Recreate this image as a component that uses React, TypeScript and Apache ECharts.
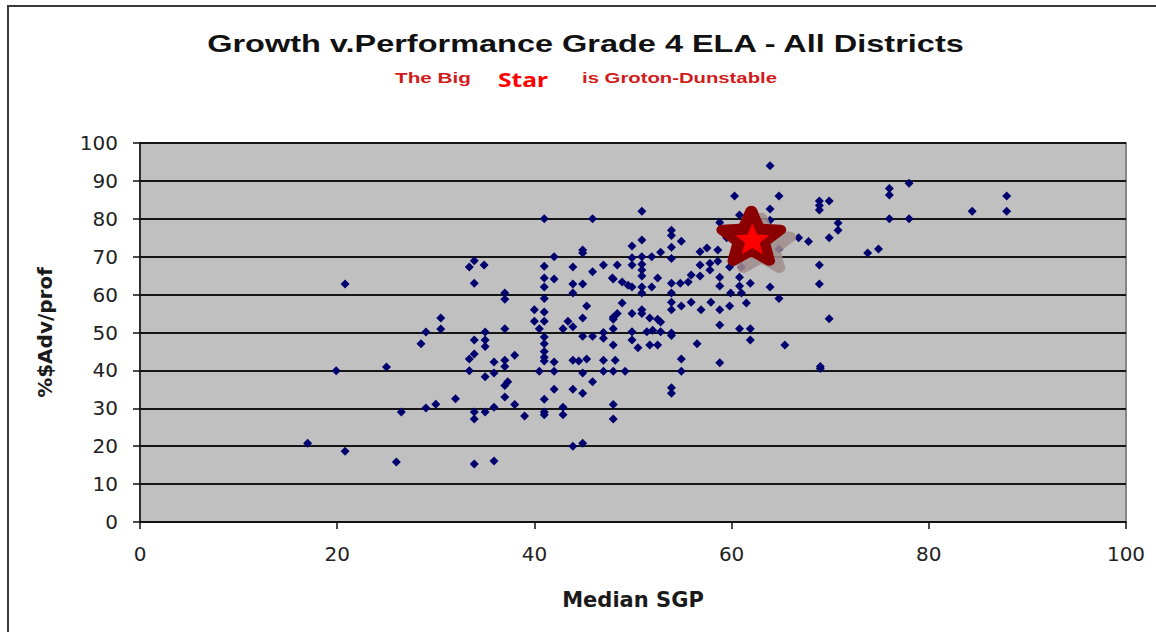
import React, { useEffect, useRef } from "react";
import * as echarts from "echarts";

// ---- Data ----
const titleText = "Growth v.Performance Grade 4 ELA - All Districts";
const subtitleLeft = "The Big";
const subtitleStar = "Star";
const subtitleRight = "is Groton-Dunstable";
const xAxisName = "Median SGP";
const yAxisName = "%$Adv/prof";

// [Median SGP, % Adv/prof]
const lowGrowthDistricts: [number, number][] = [
  [33.9, 68.9], [33.4, 67.3], [33.9, 63], [20.8, 62.8], [30.5, 53.8], [30.5, 50.9],
  [29, 50.1], [28.5, 47], [33.9, 48], [33.9, 44.3], [33.4, 43], [33.4, 39.9],
  [19.9, 39.9], [25, 40.9], [32, 32.5], [30, 31.1], [29, 30.1], [26.5, 29],
  [33.9, 29], [33.9, 27.2], [17, 20.8], [20.8, 18.7], [26, 15.8], [33.9, 15.3],
];

const midGrowthDistricts: [number, number][] = [
  [41, 80], [45.9, 80], [44.9, 71.8], [44.9, 71], [42, 70], [34.9, 67.8], [41, 67.5],
  [43.9, 67.3], [47, 67.8], [48.4, 67.8], [45.9, 66], [41, 64.4], [42, 64.1],
  [43.9, 62.8], [44.9, 62.8], [41, 62], [43.9, 60.4], [41, 59], [37, 60.4], [37, 58.8],
  [48, 64.1], [45.3, 57], [44.9, 53.8], [48, 54], [48.4, 55], [40, 56], [41, 55.4],
  [40, 53], [41, 53], [40.5, 51], [37, 51], [42.9, 51], [43.4, 53], [43.9, 51.5],
  [44.9, 49], [45.9, 49], [47, 50], [48, 51], [35, 50.1], [35, 48], [35, 46.3],
  [41, 48.8], [41, 47], [41, 45], [41, 43.5], [41, 42.5], [38, 44], [35.9, 42.2],
  [37, 42.7], [37, 41], [35.9, 39.3], [35, 38.3], [40.5, 39.8], [42, 42.2], [42, 39.8],
  [43.9, 42.7], [44.5, 42.5], [45.3, 43], [44.9, 39.3], [47, 42.7], [47, 39.8],
  [48, 39.8], [48.2, 42.7], [37.3, 37], [37, 36], [45.9, 37], [42, 35], [43.9, 35],
  [44.9, 34], [37, 33], [38, 31], [41, 32.4], [41, 29], [41, 28.3], [42.9, 30.3],
  [42.9, 28.3], [39, 28], [35.9, 30.3], [35, 29], [48, 31], [48, 27.2], [43.9, 20],
  [44.9, 20.8], [35.9, 16.1], [47, 48.5], [48, 46.7], [48, 53.5],
];

const upperGrowthDistricts: [number, number][] = [
  [60.3, 86], [50.9, 82], [60.8, 81], [58.8, 79], [53.9, 77], [53.9, 75.6], [54.9, 74.1],
  [50.9, 74.4], [49.9, 72.8], [53.9, 72.5], [59.5, 75], [57.5, 72.3], [56.8, 71.3],
  [58.6, 71.8], [52.8, 71.2], [51.9, 70], [50.9, 70], [49.9, 69.7], [53.9, 69.5],
  [49.9, 67.8], [50.9, 68], [50.9, 66.5], [56.8, 67.8], [57.8, 68.3], [57.8, 66.5],
  [58.6, 68.8], [59.8, 67.3], [61, 67.3], [55.9, 65.2], [56.8, 64.9], [54.8, 63],
  [55.6, 63.3], [53.9, 63], [47.9, 64.4], [48.9, 63.3], [49.5, 62.5], [49.9, 62],
  [50.9, 64.9], [50.9, 62], [50.9, 60.4], [51.9, 62], [52.5, 64.4], [58.8, 64.6],
  [58.8, 62.3], [60.8, 64.6], [60.8, 62.3], [61.9, 63], [61, 60.4], [59.9, 60.4],
  [53.9, 60.4], [53.9, 58], [54.9, 57], [55.9, 58], [56.9, 56], [57.9, 58], [58.8, 56],
  [59.8, 57], [61.5, 57.8], [53.9, 56], [48.9, 57.8], [49.9, 55], [50.9, 56], [50.9, 55],
  [51.7, 53.8], [52.5, 53.5], [52.8, 52.8], [52, 50.6], [51.4, 50.2], [49.9, 50.2],
  [52.8, 50.2], [53.9, 49.9], [53.9, 49.2], [58.8, 52], [60.8, 51], [61.9, 51],
  [61.9, 48], [49.9, 48], [50.5, 46], [51.7, 46.7], [52.5, 46.7], [56.5, 47],
  [49.2, 39.8], [54.9, 43], [54.9, 39.8], [58.8, 42], [53.9, 35.4], [53.9, 34],
  [62, 78], [63, 76], [61.5, 73],
];

const highGrowthDistricts: [number, number][] = [
  [63.9, 94], [76, 88], [76, 86.3], [78, 89.4], [87.9, 86], [87.9, 82], [84.4, 82],
  [64.8, 86], [68.9, 84.7], [68.9, 83.5], [68.9, 82.3], [69.9, 84.7], [63.9, 82.6],
  [76, 80], [78, 80], [63.9, 79.6], [70.8, 78.9], [70.8, 77], [69.9, 75], [66.8, 75],
  [67.8, 74], [64.8, 72], [73.8, 71], [74.9, 72], [68.9, 67.8], [68.9, 62.8], [63.9, 62],
  [64.8, 59], [69.9, 53.6], [65.4, 46.7], [69, 41], [69, 40.5],
];

// Groton-Dunstable (the big star)
const grotonDunstable: [number, number][] = [[62.0, 75.5]];

const xTicks = { min: 0, max: 100, interval: 20 };
const yTicks = { min: 0, max: 100, interval: 10 };

const STAR_PATH =
  "path://M50 0 L62.93 32.2 L97.55 34.55 L70.92 56.8 L79.39 90.45 L50 72 L20.61 90.45 L29.08 56.8 L2.45 34.55 L37.07 32.2 Z";

function fitScale(text: string, font: string, target: number): number {
  const ctx = document.createElement("canvas").getContext("2d");
  if (!ctx) return 1;
  ctx.font = font;
  const w = ctx.measureText(text).width;
  return w > 0 ? target / w : 1;
}

export default function App() {
  const ref = useRef<HTMLDivElement>(null);

  useEffect(() => {
    document.body.style.margin = "0";
    if (!ref.current) return;
    const chart = echarts.init(ref.current, undefined, { renderer: "svg" });

    const titleFont = 'bold 24px "Liberation Sans"';
    const subFont = 'bold 15px "Liberation Sans"';
    const starFont = 'bold 20px "Noto Sans"';

    const allDistricts = [
      ...lowGrowthDistricts,
      ...midGrowthDistricts,
      ...upperGrowthDistricts,
      ...highGrowthDistricts,
    ];

    chart.setOption({
      animation: false,
      backgroundColor: "#ffffff",
      grid: {
        left: 140,
        top: 143,
        width: 986,
        height: 379,
        show: true,
        backgroundColor: "#c0c0c0",
        borderColor: "#868686",
        borderWidth: 2,
      },
      xAxis: {
        type: "value",
        min: xTicks.min,
        max: xTicks.max,
        interval: xTicks.interval,
        name: xAxisName,
        nameLocation: "middle",
        nameGap: 67,
        nameTextStyle: {
          fontFamily: "DejaVu Sans",
          fontWeight: "bold",
          fontSize: 21,
          color: "#1a1a1a",
        },
        axisLine: { show: true, lineStyle: { color: "#111", width: 1.5 } },
        axisTick: { show: true, length: 7, lineStyle: { color: "#111", width: 1.5 } },
        axisLabel: {
          margin: 22,
          fontFamily: "DejaVu Sans",
          fontSize: 20,
          color: "#222",
        },
        splitLine: { show: false },
      },
      yAxis: {
        type: "value",
        min: yTicks.min,
        max: yTicks.max,
        interval: yTicks.interval,
        name: yAxisName,
        nameLocation: "middle",
        nameGap: 85,
        nameTextStyle: {
          fontFamily: "DejaVu Sans",
          fontWeight: "bold",
          fontSize: 20,
          color: "#1a1a1a",
        },
        axisLine: { show: true, lineStyle: { color: "#111", width: 1.5 } },
        axisTick: { show: true, length: 7, lineStyle: { color: "#111", width: 1.5 } },
        axisLabel: {
          margin: 22,
          fontFamily: "DejaVu Sans",
          fontSize: 20,
          color: "#222",
        },
        splitLine: { show: true, lineStyle: { color: "#151515", width: 2 } },
      },
      series: [
        {
          type: "scatter",
          name: "Districts",
          data: allDistricts,
          symbol: "diamond",
          symbolSize: 9,
          itemStyle: { color: "#00006e", opacity: 1 },
          z: 2,
        },
        {
          type: "scatter",
          name: "Groton-Dunstable",
          data: grotonDunstable,
          symbol: STAR_PATH,
          symbolSize: [58, 50],
          itemStyle: {
            color: "#8a0000",
            opacity: 1,
            borderColor: "#8a0000",
            borderWidth: 11,
            borderJoin: "round",
            shadowColor: "rgba(160,140,140,0.85)",
            shadowOffsetX: 10,
            shadowOffsetY: 7,
            shadowBlur: 0,
          },
          z: 5,
        },
        {
          type: "scatter",
          name: "Groton-Dunstable inner",
          data: grotonDunstable,
          symbol: STAR_PATH,
          symbolSize: [34, 31],
          symbolOffset: [1, 3],
          itemStyle: { color: "#ff0000", opacity: 1 },
          z: 6,
        },
      ],
      graphic: [
        {
          type: "polyline",
          shape: { points: [[8, 632], [8, 6], [1156, 6]] },
          style: { stroke: "#3a3a3a", lineWidth: 2, fill: null },
          silent: true,
        },
        {
          type: "text",
          x: 585.5,
          y: 44,
          scaleX: fitScale(titleText, titleFont, 759),
          style: {
            text: titleText,
            font: titleFont,
            fill: "#111111",
            textAlign: "center",
            textVerticalAlign: "middle",
            align: "center",
            verticalAlign: "middle",
          },
        },
        {
          type: "text",
          x: 433,
          y: 78,
          scaleX: fitScale(subtitleLeft, subFont, 76),
          style: {
            text: subtitleLeft,
            font: subFont,
            fill: "#d01c1c",
            textAlign: "center",
            textVerticalAlign: "middle",
            align: "center",
            verticalAlign: "middle",
          },
        },
        {
          type: "text",
          x: 523,
          y: 79,
          scaleX: fitScale(subtitleStar, starFont, 50),
          style: {
            text: subtitleStar,
            font: starFont,
            fill: "#ff0000",
            textAlign: "center",
            textVerticalAlign: "middle",
            align: "center",
            verticalAlign: "middle",
          },
        },
        {
          type: "text",
          x: 679.5,
          y: 78,
          scaleX: fitScale(subtitleRight, subFont, 195),
          style: {
            text: subtitleRight,
            font: subFont,
            fill: "#d01c1c",
            textAlign: "center",
            textVerticalAlign: "middle",
            align: "center",
            verticalAlign: "middle",
          },
        },
      ],
    });

    return () => {
      chart.dispose();
    };
  }, []);

  return <div ref={ref} style={{ width: 1156, height: 632 }} />;
}
